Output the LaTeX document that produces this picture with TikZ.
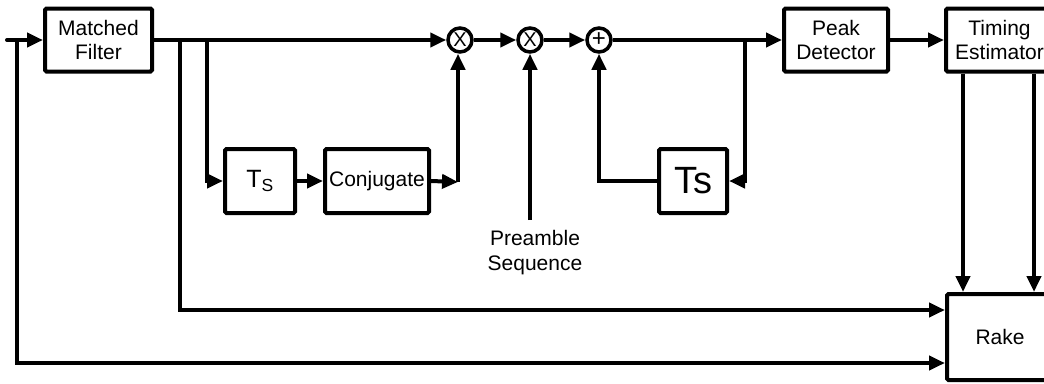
\documentclass[tikz,border=0pt]{standalone}
\usepackage{fontspec}
\setmainfont{Liberation Sans}
\usetikzlibrary{arrows.meta}
\begin{document}
\begin{tikzpicture}[x=1pt,y=-1pt,line width=4pt,
  blk/.style={draw,rounded corners=1.5pt,inner sep=0pt,align=center,font=\fontsize{21}{24}\selectfont},
  mix/.style={draw,circle,minimum size=24pt,inner sep=0pt,line width=3.5pt,font=\fontsize{20}{20}\selectfont},
  sig/.style={-{Triangle[length=16pt,width=14pt]}},
  lbl/.style={align=center,font=\fontsize{21}{25}\selectfont}]
\clip (0,0) rectangle (1044,383);
% blocks
\node[blk,minimum width=107pt,minimum height=63pt] (mf) at (98.5,40) {Matched\\Filter};
\node[blk,minimum width=70pt,minimum height=64pt,font=\fontsize{25}{25}\selectfont] (ts1) at (260,181) {T\textsubscript{S}};
\node[blk,minimum width=104pt,minimum height=64pt,font=\fontsize{21}{24}\selectfont] (cj) at (377,181) {Conjugate};
\node[blk,minimum width=68pt,minimum height=64pt,font=\fontsize{38}{38}\selectfont] (ts2) at (693,181) {Ts};
\node[blk,minimum width=104pt,minimum height=63pt] (pd) at (836,40) {Peak\\Detector};
\node[blk,minimum width=107pt,minimum height=63pt] (te) at (999.5,40) {Timing\\Estimator};
\node[blk,minimum width=106pt,minimum height=86pt] (rk) at (1000,337) {Rake};
% mixers
\node[mix] (m1) at (460,40) {X};
\node[mix] (m2) at (530,40) {X};
\node[mix,font=\fontsize{24}{24}\selectfont] (ad) at (599,40) {+};
\node[lbl] (pre) at (535,253) {Preamble\\Sequence};
% coordinates
\coordinate (in) at (7,40);
\coordinate (jl) at (17,40);
\coordinate (bl) at (17,363);
\coordinate (j1) at (180,40);
\coordinate (b1) at (180,310);
\coordinate (j2) at (207,40);
\coordinate (j3) at (745,40);
\coordinate (c1) at (458,182);
\coordinate (p1) at (530,220);
\coordinate (t1) at (963,0);
\coordinate (t2) at (1034,0);
% connectors
\draw[sig,line cap=round] (in) -- (mf.west);
\draw[sig] (jl) -- (bl) -- (bl -| rk.west);
\draw[sig] (mf.east) -- (m1.west);
\draw[sig] (j1) -- (b1) -- (b1 -| rk.west);
\draw[sig] (j2) |- (ts1.west);
\draw[sig] (ts1.east) -- (cj.west);
\draw[sig] (cj.east) -- (c1);
\draw[sig] (c1) -- (m1.south -| c1);
\draw[sig] (m1.east) -- (m2.west);
\draw[sig] (m2.east) -- (ad.west);
\draw[sig] (p1) -- (m2.south);
\draw[sig] (ad.east) -- (pd.west);
\draw[sig] (j3) |- (ts2.east);
\draw[sig] (ts2.west) -| (ad.south);
\draw[sig] (pd.east) -- (te.west);
\draw[sig] (te.south -| t1) -- (rk.north -| t1);
\draw[sig] (te.south -| t2) -- (rk.north -| t2);
\end{tikzpicture}
\end{document}
